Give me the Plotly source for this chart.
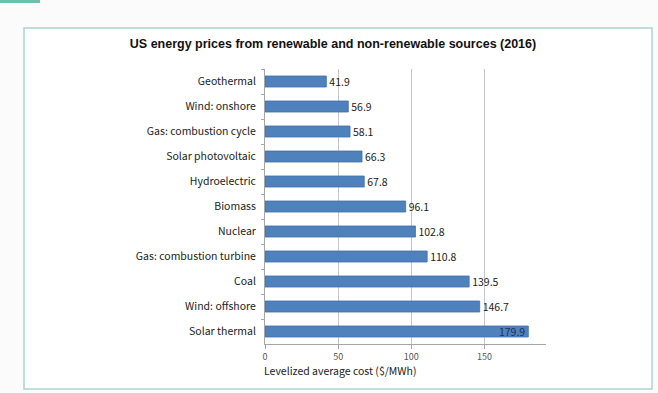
import plotly.graph_objects as go

categories = ["Geothermal", "Wind: onshore", "Gas: combustion cycle", "Solar photovoltaic",
              "Hydroelectric", "Biomass", "Nuclear", "Gas: combustion turbine", "Coal",
              "Wind: offshore", "Solar thermal"]
values = [41.9, 56.9, 58.1, 66.3, 67.8, 96.1, 102.8, 110.8, 139.5, 146.7, 179.9]
tick_vals = [0, 50, 100, 150]
title_text = "US energy prices from renewable and non-renewable sources (2016)"
xaxis_title = "Levelized average cost ($/MWh)"

W, H = 658, 393
L, R, T, B = 265, 546, 69, 344

def px(x):
    return (x - L) / (R - L)

def py(y):
    return (B - y) / (B - T)

text_pos = ["outside"] * (len(values) - 1) + ["inside"]
text_col = ["#222222"] * (len(values) - 1) + ["#1f3050"]

fig = go.Figure(go.Bar(
    y=categories, x=values, orientation="h",
    marker=dict(color="#4f81bd", line=dict(color="#3f6fa8", width=0.8)),
    text=[f"{v:.1f}" for v in values],
    textposition=text_pos,
    insidetextanchor="end",
    constraintext="none",
    textfont=dict(family="Noto Sans CJK KR, Noto Sans", size=10.5, color=text_col),
    cliponaxis=False,
))

shapes = [
    dict(type="rect", xref="paper", yref="paper", x0=px(24), x1=px(652), y0=py(389), y1=py(28),
         line=dict(color="#a9d6cb", width=1.5), fillcolor="white", layer="below"),
    dict(type="rect", xref="paper", yref="paper", x0=px(0), x1=px(40), y0=py(3), y1=py(0),
         line=dict(width=0), fillcolor="#6cc1ad", layer="below"),
]

fig.update_layout(
    width=W, height=H,
    margin=dict(l=L, r=W - R, t=T, b=H - B),
    paper_bgcolor="#fafbfa", plot_bgcolor="white",
    bargap=0.56,
    showlegend=False,
    shapes=shapes,
    title=dict(text=title_text, x=333 / W, y=1 - 44 / H, xref="container", yref="container",
               xanchor="center", yanchor="middle",
               font=dict(family="Liberation Sans, Arial", size=12.5, color="#111111", weight="bold")),
    font=dict(family="Noto Sans CJK KR, Noto Sans", size=10.5, color="#222222"),
    xaxis=dict(range=[0, 192], tickvals=tick_vals, showgrid=True, gridcolor="#c8c8c8", gridwidth=1,
               showline=True, linecolor="#a6a6a6", linewidth=1, ticks="outside", ticklen=4,
               tickcolor="#a6a6a6", zeroline=False,
               tickfont=dict(family="Noto Sans CJK KR, Noto Sans", size=9, color="#555555")),
    yaxis=dict(autorange="reversed", showline=True, linecolor="#a6a6a6", linewidth=1,
               ticks="outside", tickson="boundaries", ticklen=3, tickcolor="#a6a6a6",
               showgrid=False, ticklabelstandoff=6,
               tickfont=dict(family="Noto Sans CJK KR, Noto Sans", size=10.5, color="#222222")),
    annotations=[dict(text=xaxis_title, xref="paper", yref="paper", x=px(262), y=py(370),
                      xanchor="left", yanchor="middle", showarrow=False,
                      font=dict(family="Noto Sans CJK KR, Noto Sans", size=10.5, color="#222222"))],
)

fig.write_html("out.html")
